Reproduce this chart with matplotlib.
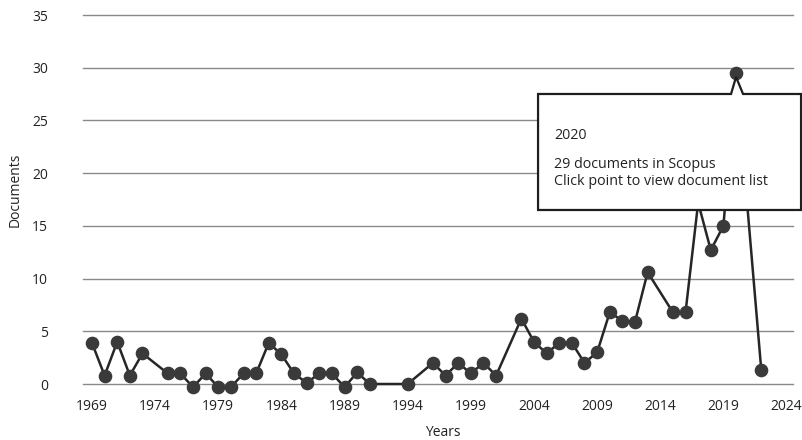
import matplotlib
matplotlib.use("Agg")
import matplotlib.pyplot as plt
from matplotlib.patches import Polygon
from matplotlib.transforms import IdentityTransform

plt.rcParams['font.family'] = ['Open Sans', 'DejaVu Sans']

# documents per year
years = [1969, 1970, 1971, 1972, 1973, 1975, 1976, 1977, 1978, 1979, 1980,
         1981, 1982, 1983, 1984, 1985, 1986, 1987, 1988, 1989, 1990, 1991,
         1994, 1996, 1997, 1998, 1999, 2000, 2001, 2003, 2004, 2005, 2006,
         2007, 2008, 2009, 2010, 2011, 2012, 2013, 2015, 2016, 2017, 2018,
         2019, 2020, 2022]
docs = [3.9, 0.8, 4.0, 0.8, 2.9, 1.0, 1.0, -0.3, 1.0, -0.3, -0.3,
        1.0, 1.0, 3.9, 2.8, 1.0, 0.1, 1.0, 1.0, -0.3, 1.1, 0.0,
        0.0, 2.0, 0.8, 2.0, 1.0, 2.0, 0.8, 6.2, 4.0, 2.9, 3.9,
        3.9, 2.0, 3.0, 6.8, 6.0, 5.9, 10.6, 6.8, 6.8, 17.2, 12.7,
        15.0, 29.5, 1.3]
xticks = list(range(1969, 2025, 5))
yticks = list(range(0, 36, 5))

tip_year = 2020
tip_lines = ["2020", "29 documents in Scopus", "Click point to view document list"]

W, H = 803, 440
fig = plt.figure(figsize=(W / 100, H / 100), dpi=100)
ax = fig.add_axes([83 / W, 1 - 384 / H, 710 / W, 369 / H])

ax.plot(years, docs, color='#262626', lw=1.8, marker='o', ms=8.8,
        mfc='#3a3a3a', mec='#3a3a3a', clip_on=False, zorder=3)

ax.set_xlim(1968.29, 2024.51)
ax.set_ylim(0, 35)
ax.set_xticks(xticks)
ax.set_yticks(yticks)
ax.grid(axis='y', color='#8a8a8a', lw=1.0)
for gl in ax.get_ygridlines():
    gl.set_clip_on(False)
ax.set_axisbelow(True)
for s in ax.spines.values():
    s.set_visible(False)
ax.tick_params(length=0, labelsize=10, colors='#222222')
ax.tick_params(axis='x', pad=11)
ax.tick_params(axis='y', pad=25)
for lab in ax.get_yticklabels():
    lab.set_horizontalalignment('right')

fig.text(15 / W, 1 - 190 / H, "Documents", rotation=90, ha='center',
         va='center', fontsize=10, color='#222222')
fig.text(443 / W, 1 - 432 / H, "Years", ha='center', va='center',
         fontsize=10, color='#222222')

# tooltip anchored on the 2020 point
i = years.index(tip_year)
px, py = ax.transData.transform((years[i], docs[i]))
top, bot = py - 21, py - 137
left, right = px - 198, min(px + 65, W - 1)
verts = [(left, top), (px - 5, top), (px, py - 4), (px + 7, top),
         (right, top), (right, bot), (left, bot)]
box = Polygon(verts, closed=True, fc='white', ec='#1e1e1e', lw=1.6,
              transform=IdentityTransform(), zorder=10)
fig.add_artist(box)
offs = [66, 95, 112]
for t, o in zip(tip_lines, offs):
    fig.text(left + 16, py - o, t, transform=IdentityTransform(),
             ha='left', va='baseline', fontsize=10.3, color='#222222',
             zorder=11)

fig.savefig("out.png", dpi=100)
